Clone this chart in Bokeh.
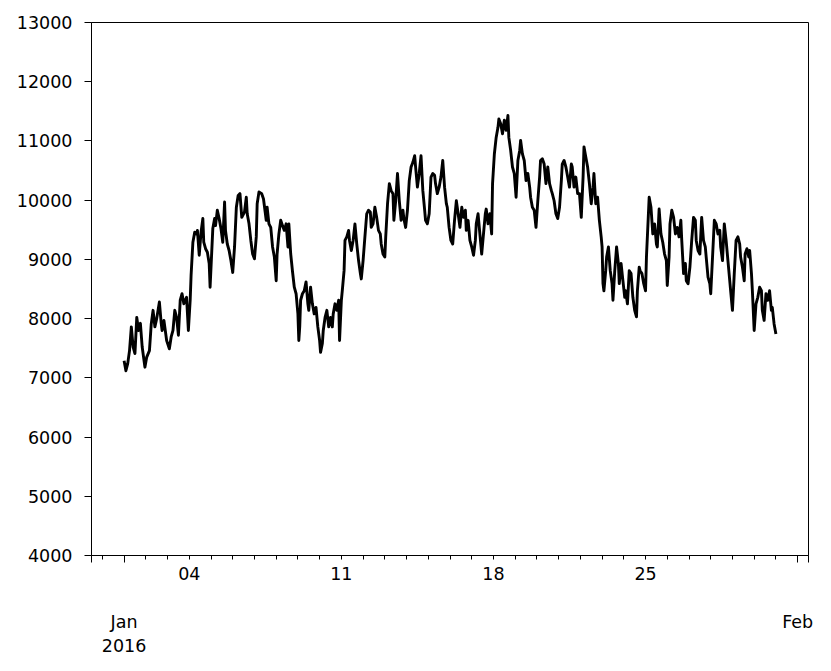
import pandas as pd
from bokeh.plotting import figure
from bokeh.models import FixedTicker, Range1d, ColumnDataSource, DatetimeAxis
from bokeh.embed import file_html
from bokeh.resources import INLINE

# ---- data: hours after 2016-01-01 00:00 and the series value ----
hours = [
    0, 2, 4, 6, 8, 10, 12, 14, 16, 18, 20, 23, 25, 28, 30, 32, 34, 36, 39, 41,
    42, 44, 47, 50, 52, 54, 56, 58, 60, 62, 64, 66, 69, 71, 73, 74, 76, 78, 80, 81,
    83, 85, 87, 88, 90, 92, 94, 95, 98, 100, 101, 103, 105, 107, 109, 111, 112, 114, 116, 118,
    120, 122, 124, 126, 128, 130, 133, 135, 136, 138, 140, 142, 144, 146, 147, 149, 152, 154, 157, 158,
    160, 162, 164, 166, 168, 169, 171, 173, 175, 177, 179, 181, 182, 184, 186, 188, 190, 192, 193, 194,
    195, 197, 199, 201, 203, 204, 206, 208, 210, 212, 214, 216, 217, 219, 220, 222, 224, 226, 228, 230,
    231, 233, 235, 237, 238, 240, 241, 243, 244, 246, 248, 249, 251, 253, 255, 257, 259, 261, 262, 264,
    266, 268, 270, 272, 273, 275, 277, 279, 281, 283, 284, 286, 288, 289, 291, 293, 295, 297, 298, 300,
    302, 304, 306, 308, 309, 311, 313, 315, 317, 319, 321, 322, 324, 326, 328, 330, 332, 333, 335, 337,
    339, 341, 343, 344, 346, 348, 350, 352, 354, 356, 357, 359, 361, 363, 365, 367, 369, 371, 373, 375,
    377, 378, 380, 382, 384, 386, 388, 389, 391, 393, 395, 397, 399, 400, 402, 404, 406, 407, 409, 411,
    413, 414, 416, 418, 420, 422, 424, 425, 427, 429, 431, 433, 435, 437, 438, 440, 442, 444, 446, 448,
    449, 451, 453, 455, 457, 459, 460, 462, 464, 466, 468, 470, 472, 473, 475, 477, 479, 481, 483, 484,
    486, 488, 490, 492, 494, 495, 497, 499, 501, 503, 505, 507, 508, 510, 512, 514, 516, 518, 519, 521,
    523, 525, 527, 528, 529, 530, 532, 533, 535, 537, 539, 540, 542, 544, 546, 547, 549, 551, 553, 554,
    556, 558, 560, 562, 564, 566, 567, 569, 570, 572, 574, 576, 577, 579, 580, 582, 584, 586, 588, 589,
    591, 593, 595, 597, 599, 600, 602, 603, 605, 607, 609, 611, 613, 615, 616, 618, 620, 621, 623, 625,
    627, 629, 631, 632, 634, 636, 638, 640, 642, 643, 645, 647, 648, 650, 652, 654, 656, 658, 659, 661,
    663, 665, 667, 669, 670, 672, 674, 676, 678, 680, 681, 683, 685, 686, 688, 690, 691, 693, 694, 696,
    698, 700, 702, 704, 705, 707, 709, 711, 713, 715, 716, 718, 720,
]
values = [
    7290, 7120, 7240, 7460, 7860, 7520, 7410, 8020, 7800, 7920, 7520, 7180, 7350, 7460, 7910, 8140, 7860, 8000, 8280, 7920,
    7800, 7970, 7630, 7490, 7690, 7800, 8140, 8020, 7720, 8310, 8420, 8250, 8360, 7800, 8310, 8730, 9290, 9460, 9430, 9490,
    9070, 9460, 9690, 9290, 9180, 9120, 8930, 8530, 9520, 9690, 9570, 9830, 9690, 9520, 9290, 9970, 9490, 9260, 9150, 8980,
    8780, 9210, 9880, 10080, 10110, 9710, 9800, 10050, 9770, 9600, 9320, 9090, 9010, 9380, 9940, 10140, 10110, 10020, 9660, 9880,
    9600, 9540, 9210, 9040, 8640, 9090, 9430, 9660, 9570, 9490, 9600, 9210, 9600, 9100, 8800, 8530, 8420, 8080, 7630, 7860,
    8310, 8420, 8470, 8620, 8250, 8140, 8530, 8250, 8080, 8190, 7860, 7630, 7430, 7580, 7800, 8020, 8140, 7860, 8020, 7860,
    8080, 8250, 8140, 8310, 7630, 8310, 8470, 8810, 9320, 9380, 9490, 9320, 9150, 9320, 9600, 9260, 8980, 8760, 8670, 8980,
    9380, 9770, 9830, 9800, 9540, 9600, 9880, 9710, 9490, 9430, 9260, 9090, 9040, 9380, 9940, 10280, 10160, 10110, 9660, 9990,
    10450, 9990, 9660, 9830, 9690, 9540, 9830, 10330, 10560, 10640, 10750, 10560, 10220, 10450, 10750, 10160, 9830, 9660, 9600, 9770,
    10390, 10450, 10420, 10280, 10110, 10220, 10390, 10670, 10220, 9940, 9880, 9540, 9320, 9260, 9660, 9990, 9770, 9540, 9880, 9710,
    9830, 9490, 9660, 9320, 9210, 9070, 9320, 9600, 9770, 9430, 9090, 9430, 9770, 9850, 9600, 9770, 9430, 10280, 10780, 11060,
    11230, 11370, 11290, 11120, 11350, 11180, 11430, 11060, 10840, 10560, 10450, 10050, 10670, 10840, 11010, 10780, 10670, 10330, 10450, 10220,
    10050, 9880, 9830, 9540, 9990, 10390, 10670, 10700, 10610, 10280, 10560, 10280, 10160, 10110, 9990, 9770, 9690, 9880, 10330, 10610,
    10670, 10560, 10390, 10220, 10610, 10560, 10220, 10390, 10110, 10110, 9710, 10390, 10900, 10730, 10560, 10280, 9940, 10220, 10450, 9940,
    10050, 9660, 9380, 9210, 8590, 8470, 8810, 9040, 9210, 8810, 8590, 8310, 8810, 9210, 8930, 8590, 8930, 8640, 8360, 8470,
    8250, 8810, 8760, 8360, 8140, 8030, 8470, 8870, 8810, 8760, 8590, 8470, 9040, 9710, 10050, 9880, 9430, 9600, 9260, 9210,
    9850, 9430, 9290, 9090, 8980, 8560, 9040, 9600, 9830, 9710, 9430, 9540, 9380, 9660, 9320, 8760, 8930, 8640, 8590, 8870,
    9320, 9710, 9660, 9320, 9150, 9090, 9710, 9320, 9210, 9040, 8700, 8590, 8420, 9040, 9660, 9600, 9430, 9490, 9210, 8980,
    9600, 9320, 8980, 8640, 8470, 8140, 8760, 9320, 9380, 9260, 9040, 8870, 8640, 9090, 9180, 9040, 9150, 8760, 8470, 7800,
    8250, 8360, 8530, 8470, 8140, 7970, 8420, 8310, 8470, 8140, 8190, 7910, 7740,
]

week_days = [4, 11, 18, 25]
week_labels = ["04", "11", "18", "25"]
month_offsets = [0, 31]
month_labels = ["Jan\n2016", "Feb"]
y_ticks = [4000, 5000, 6000, 7000, 8000, 9000, 10000, 11000, 12000, 13000]

start = pd.Timestamp("2016-01-01")


def ms(ts):
    return float(ts.value // 10**6)


def day_ms(d):
    return ms(start + pd.Timedelta(days=d))


xs = [start + pd.Timedelta(hours=h) for h in hours]
src = ColumnDataSource(data=dict(x=xs, y=values))

x_lo = day_ms(-1.5)
x_hi = day_ms(31.5)
Y0, Y1 = 4000, 13000

FONT = "DejaVu Sans"
FSIZE = "17.5px"

W, H = 823, 662
ML, MR, MT, MB = 91, 15, 22, 107

p = figure(width=W, height=H, x_axis_type="datetime",
           x_range=Range1d(x_lo, x_hi), y_range=Range1d(Y0, Y1),
           output_backend="svg", toolbar_location=None,
           min_border_left=ML, min_border_right=MR, min_border_top=MT, min_border_bottom=MB)
p.xgrid.visible = False
p.ygrid.visible = False
p.outline_line_color = "black"
p.outline_line_alpha = 1.0
p.outline_line_width = 1
p.background_fill_color = "white"
p.border_fill_color = "white"

p.line("x", "y", source=src, line_color="black", line_width=2.9, line_join="round")


def style_labels(ax):
    ax.major_label_text_font = FONT
    ax.major_label_text_font_size = FSIZE
    ax.major_label_text_color = "black"


# axis 1: long ticks at range edges and month starts, daily minor ticks, no labels
eps = 60000.0
mticks = [x_lo + eps] + [day_ms(o) for o in month_offsets] + [x_hi - eps]
xa = p.xaxis[0]
xa.ticker = FixedTicker(ticks=mticks, minor_ticks=[day_ms(d) for d in range(-1, 32)])
xa.major_label_overrides = {t: "" for t in mticks}
xa.major_label_text_font_size = "0px"
xa.major_label_standoff = 0
xa.major_tick_in = 0
xa.major_tick_out = 7
xa.minor_tick_in = 0
xa.minor_tick_out = 4
xa.axis_line_color = "black"
xa.major_tick_line_color = "black"
xa.minor_tick_line_color = "black"

# axis 2: weekly day labels
wticks = [day_ms(d - 1) for d in week_days]
xw = DatetimeAxis(ticker=FixedTicker(ticks=wticks, minor_ticks=[]))
xw.major_label_overrides = {t: lab for t, lab in zip(wticks, week_labels)}
xw.axis_line_color = None
xw.major_tick_line_color = None
xw.minor_tick_line_color = None
xw.major_tick_in = 0
xw.major_tick_out = 0
xw.minor_tick_in = 0
xw.minor_tick_out = 0
xw.major_label_standoff = 4
style_labels(xw)
p.add_layout(xw, "below")

# axis 3: month labels
mlab_ticks = [day_ms(o) for o in month_offsets]
xm = DatetimeAxis(ticker=FixedTicker(ticks=mlab_ticks, minor_ticks=[]))
xm.major_label_overrides = {t: lab for t, lab in zip(mlab_ticks, month_labels)}
xm.axis_line_color = None
xm.major_tick_line_color = None
xm.minor_tick_line_color = None
xm.major_tick_in = 0
xm.major_tick_out = 0
xm.minor_tick_in = 0
xm.minor_tick_out = 0
xm.major_label_standoff = 29
style_labels(xm)
p.add_layout(xm, "below")

ya = p.yaxis[0]
ya.ticker = FixedTicker(ticks=y_ticks)
ya.major_tick_in = 0
ya.major_tick_out = 7
ya.minor_tick_out = 0
ya.minor_tick_in = 0
ya.major_label_standoff = 12
ya.axis_line_color = "black"
ya.major_tick_line_color = "black"
style_labels(ya)

open("out.html", "w").write(file_html(p, INLINE))
